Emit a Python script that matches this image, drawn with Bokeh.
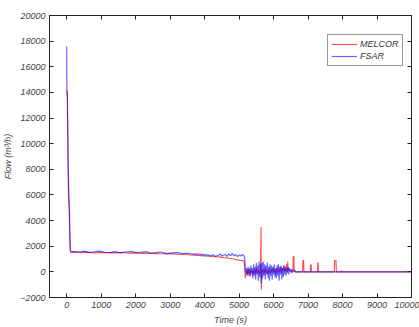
from bokeh.plotting import figure
from bokeh.models import LinearAxis, Legend, LegendItem, FixedTicker, Range1d
from bokeh.embed import file_html
from bokeh.resources import INLINE

# ---------------- data ----------------
t_melcor = [0, 10, 20, 30, 40, 55, 70, 85, 95, 105, 120,
            200, 400, 600, 800, 1000, 1200, 1400, 1600, 1800, 2000, 2200, 2400, 2600,
            2800, 3000, 3200, 3400, 3600, 3800, 4000, 4200, 4400, 4600, 4800, 5000, 5100, 5140,
            5160, 5180, 5200, 5220, 5240, 5260, 5280, 5300, 5320, 5340, 5360, 5380, 5400,
            5420, 5440, 5460, 5480, 5500, 5520, 5540, 5560, 5580, 5600, 5620, 5635, 5645,
            5660, 5680, 5700, 5720, 5740, 5760, 5780, 5800, 5820, 5840, 5860, 5880, 5900,
            5920, 5940, 5960, 5980, 6000, 6020, 6040, 6060, 6080, 6100, 6120, 6140, 6160,
            6180, 6200, 6220, 6240, 6260, 6280, 6300, 6320, 6340, 6360, 6380, 6400, 6410,
            6420, 6440, 6460, 6480, 6500, 6520, 6560, 6570, 6590, 6600, 6840, 6850, 6870,
            6880, 7060, 7070, 7090, 7100, 7270, 7280, 7290, 7300, 7760, 7770, 7810, 7820,
            7960, 7970, 7980, 10000]
flow_melcor = [14200, 14100, 13900, 11600, 9000, 7000, 5500, 4500, 2600, 1800, 1520,
               1560, 1500, 1540, 1470, 1520, 1500, 1480, 1510, 1460, 1470, 1440, 1450, 1420,
               1410, 1400, 1370, 1350, 1320, 1290, 1250, 1200, 1170, 1100, 1020, 900, 880, 850,
               400, -500, -200, 100, -300, 200, -100, 300, -200, 0, 200, -300, 100,
               -100, 200, -200, 100, 300, -100, 0, 200, -200, 100, -100, 3500, -1400,
               100, 0, 200, -200, 100, 300, -100, 200, 0, -200, 100, 300, 0,
               -100, 200, 0, 300, -100, 100, 200, -200, 0, 300, 100, -100, 200,
               0, 400, 100, -100, 300, 100, 500, 0, 200, 100, 600, 0, 800,
               300, 100, 200, 0, 100, 0, 0, 1200, 1200, 0, 0, 900, 900,
               0, 0, 550, 550, 0, 0, 700, 700, 0, 0, 880, 880, 0,
               0, 100, 0, 0]

t_fsar = [0, 5, 15, 25, 35, 45, 55, 65, 75, 85, 95, 105, 120,
          200, 350, 500, 650, 800, 950, 1100, 1250, 1400, 1550, 1700, 1850, 2000, 2150,
          2300, 2450, 2600, 2750, 2900, 3050, 3200, 3350, 3500, 3650, 3800, 3950, 4100,
          4200, 4250, 4300, 4400, 4450, 4500, 4600, 4650, 4700, 4750, 4800, 4850, 4900,
          4950, 5000, 5050, 5100, 5140,
          5160, 5180, 5200, 5220, 5240, 5260, 5280, 5300, 5320, 5340, 5360, 5380, 5400,
          5420, 5440, 5460, 5480, 5500, 5520, 5540, 5560, 5580, 5600, 5620, 5640, 5660,
          5680, 5700, 5720, 5740, 5760, 5780, 5800, 5820, 5840, 5860, 5880, 5900, 5920,
          5940, 5960, 5980, 6000, 6020, 6040, 6060, 6080, 6100, 6120, 6140, 6160, 6180,
          6200, 6220, 6240, 6260, 6280, 6300, 6320, 6340, 6360, 6380, 6400, 6420, 6440,
          6460, 6480, 6500, 6520, 6540, 6560, 6580, 6600, 6620, 6640, 6700, 10000]
flow_fsar = [17600, 13800, 13800, 11500, 9000, 7000, 5500, 5500, 4300, 3000, 2000, 1600, 1550,
             1580, 1550, 1620, 1500, 1560, 1620, 1530, 1500, 1580, 1480, 1550, 1600, 1500, 1520,
             1580, 1450, 1500, 1550, 1420, 1480, 1500, 1420, 1450, 1380, 1400, 1350, 1300,
             1250, 1350, 1200, 1300, 1400, 1250, 1350, 1200, 1400, 1250, 1450, 1250, 1350,
             1200, 1300, 1250, 1350, 1250,
             1100, 200, -100, 300, -200, 400, -300, 200, -400, 500, -100, 300, -500,
             600, -300, 400, -600, 700, -200, 500, -700, 800, -400, 600, -900, 700,
             -500, 800, -300, 600, -600, 500, -200, 700, -500, 400, -700, 600, -300,
             500, -600, 400, -200, 600, -400, 300, -500, 500, -300, 600, -700, 400,
             -200, 500, -600, 300, -400, 500, -200, 400, -300, 300, -100, 400, -200,
             300, 100, 200, -100, 200, 100, 150, 50, 100, 0, 0, 0]

x_ticks = [0, 1000, 2000, 3000, 4000, 5000, 6000, 7000, 8000, 9000, 10000]
y_ticks = [-2000, 0, 2000, 4000, 6000, 8000, 10000, 12000, 14000, 16000, 18000, 20000]

# ---------------- figure ----------------
FONT = "Liberation Sans"
TXT = "#444444"

p = figure(width=419, height=327, output_backend="svg", toolbar_location=None,
           x_range=Range1d(-500, 10000), y_range=Range1d(-2000, 20000),
           min_border_left=49, min_border_right=8, min_border_top=15, min_border_bottom=29,
           x_axis_label="Time (s)", y_axis_label="Flow (m³/h)")
p.background_fill_color = "white"
p.border_fill_color = "white"
p.outline_line_color = "#222222"
p.grid.visible = False

for ax, ticks in ((p.xaxis[0], x_ticks), (p.yaxis[0], y_ticks)):
    ax.ticker = FixedTicker(ticks=ticks)
    ax.major_tick_in = 4
    ax.major_tick_out = 0
    ax.minor_tick_line_color = None
    ax.axis_line_color = "#222222"
    ax.major_tick_line_color = "#222222"
    ax.major_label_text_font = FONT
    ax.major_label_text_font_style = "italic"
    ax.major_label_text_font_size = "9px"
    ax.major_label_text_color = TXT
    ax.axis_label_text_font = FONT
    ax.axis_label_text_font_style = "italic"
    ax.axis_label_text_font_size = "9px"
    ax.axis_label_text_color = TXT
    ax.major_label_standoff = 4
    ax.axis_label_standoff = 4

for side, ticks in (("above", x_ticks), ("right", y_ticks)):
    ax = LinearAxis(ticker=FixedTicker(ticks=ticks))
    ax.major_tick_in = 4
    ax.major_tick_out = 0
    ax.minor_tick_line_color = None
    ax.axis_line_color = "#222222"
    ax.major_tick_line_color = "#222222"
    ax.major_label_overrides = {t: "" for t in ticks}
    ax.major_label_text_font_size = "1px"
    ax.major_label_standoff = 0
    p.add_layout(ax, side)

r_m = p.line(t_melcor, flow_melcor, line_color="#ff0000", line_alpha=0.7, line_width=1.1)
r_f = p.line(t_fsar, flow_fsar, line_color="#0000ff", line_alpha=0.6, line_width=1.2)

legend = Legend(items=[LegendItem(label="MELCOR", renderers=[r_m]),
                       LegendItem(label="FSAR", renderers=[r_f])],
                location=(278, 231))
legend.label_text_font = FONT
legend.label_text_font_style = "italic"
legend.label_text_font_size = "9px"
legend.label_text_color = "#333333"
legend.border_line_color = "#333333"
legend.border_line_width = 1
legend.padding = 3
legend.spacing = 0
legend.glyph_width = 26
legend.glyph_height = 12
legend.label_height = 12
legend.label_standoff = 3
legend.margin = 0
p.add_layout(legend, "center")

open("out.html", "w").write(file_html(p, INLINE))
